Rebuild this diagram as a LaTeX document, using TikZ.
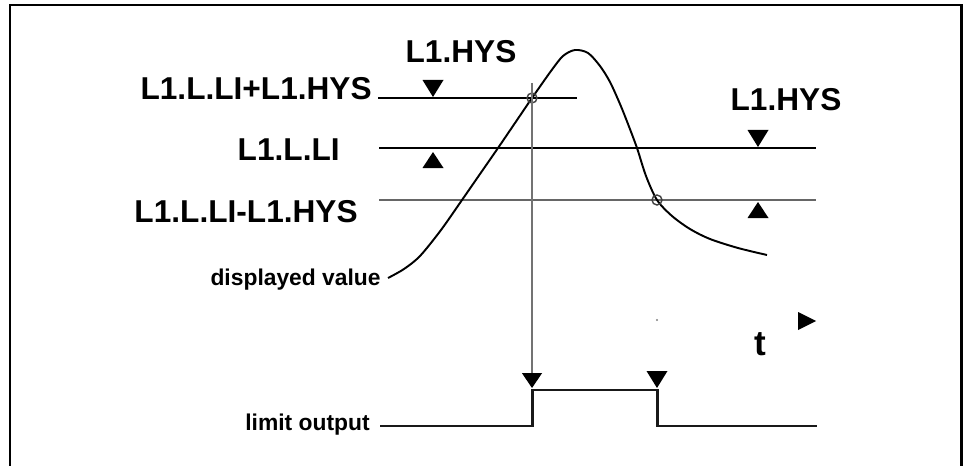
\documentclass[tikz,border=0pt]{standalone}
\usepackage{fontspec}
\setmainfont{Liberation Sans}
\usetikzlibrary{arrows.meta,positioning}

\begin{document}
\begin{tikzpicture}[
    x=0.02cm, y=-0.02cm,
    level/.style={line width=1.4pt},
    hyslevel/.style={line width=0.9pt, draw=black!60},
    guide/.style={line width=0.8pt, draw=black!55},
    signal/.style={line width=1.1pt, line join=round},
    output/.style={line width=1.7pt, draw=black!90},
    biglabel/.style={inner sep=0pt, font=\fontsize{18}{20}\selectfont\bfseries},
    smalllabel/.style={inner sep=0pt, font=\fontsize{13}{15}\selectfont\bfseries},
    crosspt/.style={draw=black!75, circle, line width=0.8pt, minimum size=0.2cm, inner sep=0pt},
    tridn/.pic={\fill (0,0) -- (-10.5,-17) -- (10.5,-17) -- cycle;},
    triup/.pic={\fill (0,0) -- (-10.5,16) -- (10.5,16) -- cycle;},
    trirt/.pic={\fill (0,0) -- (-18,-9) -- (-18,9) -- cycle;}
]
\useasboundingbox (0,0) rectangle (970,466);

% Frame
\draw[line width=1.7pt] (10,466) -- (10,5) -- (961,5) -- (961,466);

% Labels
\node[biglabel, anchor=east] (lup) at (372,89) {L1.L.LI+L1.HYS};
\node[biglabel, anchor=east] (lmid) at (340,150) {L1.L.LI};
\node[biglabel, anchor=east] (llo) at (358,212) {L1.L.LI-L1.HYS};
\node[biglabel] (hysl) at (461,52) {L1.HYS};
\node[biglabel] (hysr) at (786,100) {L1.HYS};
\node[smalllabel, anchor=base east] (disp) at (381,285) {displayed value};
\node[smalllabel, anchor=base east] (lim) at (370,430) {limit output};
\node[inner sep=0pt, anchor=base, font=\fontsize{20}{22}\selectfont\bfseries] (time) at (760,355) {t};

% Levels
\coordinate (upL) at (378,98);
\coordinate (upR) at (577,98);
\coordinate (midL) at (379,148);
\coordinate (midR) at (816,148);
\coordinate (loL) at (379,200);
\coordinate (loR) at (816,200);
\draw[level] (upL) -- (upR);
\draw[level] (midL) -- (midR);
\draw[hyslevel] (loL) -- (loR);

% Hysteresis marks
\pic at (433,97) {tridn};
\pic at (433,152) {triup};
\pic at (758,147) {tridn};
\pic at (758,202) {triup};

% Displayed value
\draw[signal] plot[smooth, tension=0.5] coordinates {
    (388,278) (404,269) (420,256) (441,230) (462,200) (480,174) (498,148)
    (515,123) (532,98) (551,71) (563,56) (575,50) (588,53) (600,66) (610,82)
    (620,104) (628,124) (637,148) (646,176) (657,200) (672,216) (690,229)
    (710,239) (738,248) (767,255)};

% Switching points
\node[crosspt] (son) at (532,98) {};
\node[crosspt] (soff) at (657,200) {};

% Limit output
\coordinate (limL) at (380,426);
\coordinate (on) at (532,390);
\coordinate (off) at (657,390);
\coordinate (limR) at (817,426);
\draw[output] (limL) -- (on |- limL) -- (on) -- (off) -- (off |- limR) -- (limR);
\draw[guide, -{Triangle[width=0.4cm, length=0.3cm, color=black]}] (532,83) -- (532,388);
\pic at (657,388) {tridn};
\fill[black!50] (657,320) circle (0.6pt);

% Time axis
\pic at (816,321) {trirt};

\end{tikzpicture}
\end{document}
